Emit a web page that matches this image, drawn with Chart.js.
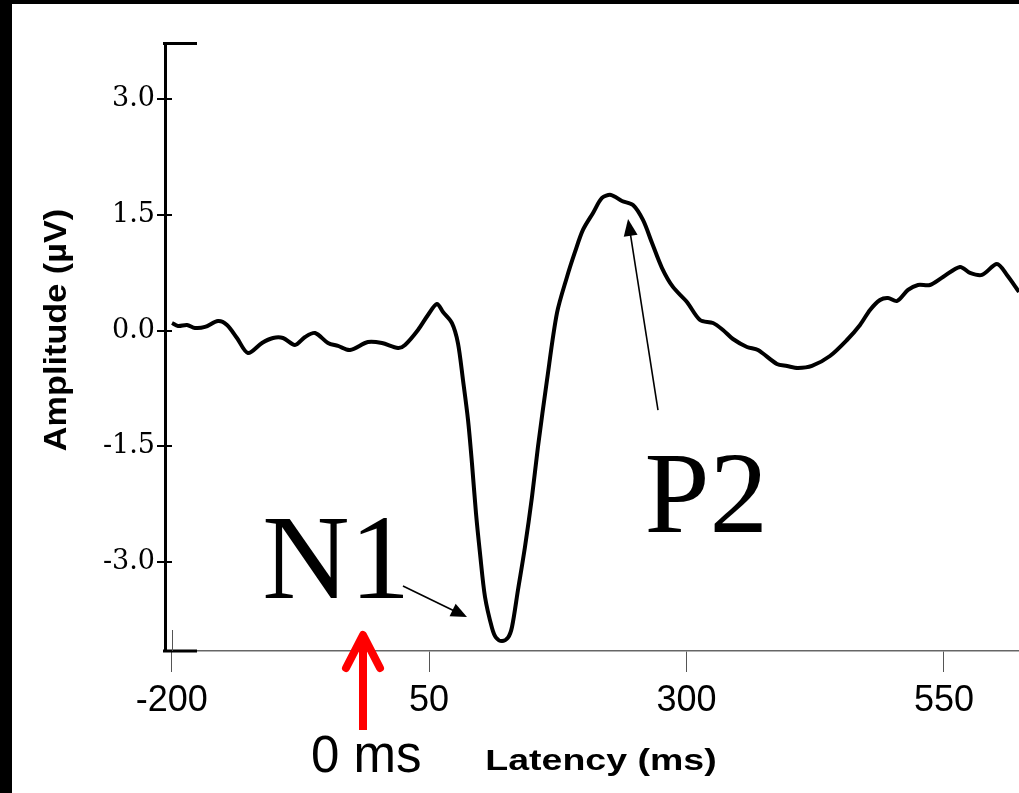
<!DOCTYPE html>
<html>
<head>
<meta charset="utf-8">
<script src="https://cdn.jsdelivr.net/npm/chart.js@4/dist/chart.umd.min.js"></script>
<style>
  html, body { margin: 0; padding: 0; background: #fff; }
  #wrap { position: absolute; left: 0; top: 0; width: 1019px; height: 793px; }
  canvas { display: block; }
</style>
</head>
<body>
<div id="wrap"><canvas id="c" width="1019" height="793"></canvas></div>
<script>
// ---- data ----
const latencyMs = [
  -199.7, -193.9, -185.1, -177.4, -167.7, -155.0, -146.3, -136.6, -125.9, -112.3,
  -101.6, -91.9, -80.3, -70.5, -60.8, -48.2, -38.5, -26.8, -9.4, 4.2,
  19.8, 26.6, 39.2, 48.9, 57.6, 63.5, 72.2, 78.0, 82.9, 87.8,
  91.6, 95.5, 99.4, 104.3, 111.1, 115.0, 120.8, 126.6, 130.5, 136.3, 143.1, 149.9,
  155.7, 164.5, 174.2, 183.9, 191.7, 199.4, 209.2, 217.9, 226.6, 237.3,
  248.0, 257.7, 266.5, 276.2, 286.8, 300.4, 313.1, 325.7, 335.4, 345.1,
  358.7, 369.4, 387.8, 397.6, 408.2, 421.8, 439.3, 455.8, 468.5, 478.2,
  487.9, 495.6, 504.4, 515.1, 524.8, 536.4, 549.1, 565.6, 575.3, 586.9,
  601.5, 611.2, 622.9
];
const amplitudeUv = [
  0.098, 0.060, 0.073, 0.034, 0.047, 0.124, 0.073, -0.096, -0.290, -0.161,
  -0.096, -0.096, -0.186, -0.083, -0.031, -0.161, -0.199, -0.251, -0.148, -0.161,
  -0.225, -0.186, 0.008, 0.202, 0.344, 0.241, 0.098, -0.161, -0.640, -1.157,
  -1.714, -2.361, -2.879, -3.449, -3.850, -3.975, -4.020, -3.975, -3.837, -3.358, -2.802, -2.154,
  -1.507, -0.640, 0.228, 0.694, 1.018, 1.303, 1.523, 1.717, 1.756, 1.678,
  1.626, 1.432, 1.134, 0.810, 0.565, 0.370, 0.137, 0.098, 0.008, -0.109,
  -0.212, -0.251, -0.432, -0.458, -0.484, -0.458, -0.329, -0.122, 0.073, 0.267,
  0.396, 0.422, 0.383, 0.526, 0.590, 0.590, 0.694, 0.824, 0.746, 0.720,
  0.862, 0.720, 0.500
];
const xTickValues = [-200, 50, 300, 550];
const yTickValues = [-3.0, -1.5, 0.0, 1.5, 3.0];
const xTitle = 'Latency (ms)';
const yTitle = 'Amplitude (\u00B5V)';
const peakLabels = ['N1', 'P2'];
const onsetLabel = '0 ms';

const points = latencyMs.map((t, i) => ({ x: t, y: amplitudeUv[i] }));

function arrowHead(ctx, x0, y0, x1, y1, len, halfW) {
  const a = Math.atan2(y1 - y0, x1 - x0);
  ctx.beginPath();
  ctx.moveTo(x1, y1);
  ctx.lineTo(x1 - len * Math.cos(a) + halfW * Math.sin(a), y1 - len * Math.sin(a) - halfW * Math.cos(a));
  ctx.lineTo(x1 - len * Math.cos(a) - halfW * Math.sin(a), y1 - len * Math.sin(a) + halfW * Math.cos(a));
  ctx.closePath();
  ctx.fill();
}

const decor = {
  id: 'decor',
  afterDraw(chart) {
    const ctx = chart.ctx;
    const xs = chart.scales.x, ys = chart.scales.y;
    const ca = chart.chartArea;
    const px = v => xs.getPixelForValue(v);
    const py = v => ys.getPixelForValue(v);
    ctx.save();
    // frame bars
    ctx.fillStyle = '#000';
    ctx.fillRect(0, 0, 12, chart.height);
    ctx.fillRect(0, 0, chart.width, 4);
    // axis caps
    ctx.strokeStyle = '#000';
    ctx.lineWidth = 3;
    ctx.beginPath();
    ctx.moveTo(ca.left - 2, ca.top + 0.5); ctx.lineTo(ca.left + 32, ca.top + 0.5);
    ctx.moveTo(ca.left - 2, ca.bottom); ctx.lineTo(ca.left + 32, ca.bottom);
    ctx.stroke();
    // inner part of y ticks
    ctx.lineWidth = 2;
    ctx.beginPath();
    yTickValues.forEach(v => { const y = Math.round(py(v)); ctx.moveTo(ca.left, y); ctx.lineTo(ca.left + 7, y); });
    ctx.stroke();
    // first x tick extends up
    ctx.strokeStyle = '#555';
    ctx.lineWidth = 1;
    ctx.beginPath();
    const x0 = Math.round(px(xTickValues[0])) + 0.5;
    ctx.moveTo(x0, ca.bottom - 21); ctx.lineTo(x0, ca.bottom);
    ctx.stroke();

    // axis titles
    ctx.fillStyle = '#000';
    ctx.save();
    ctx.translate(57, 330);
    ctx.rotate(-Math.PI / 2);
    ctx.scale(1.07, 1);
    ctx.font = 'bold 32px "Liberation Sans", Arial, sans-serif';
    ctx.textAlign = 'center';
    ctx.textBaseline = 'middle';
    ctx.fillText(yTitle, 0, 0);
    ctx.restore();

    ctx.save();
    ctx.translate(601, 770);
    ctx.scale(1.25, 1);
    ctx.font = 'bold 30px "Liberation Sans", Arial, sans-serif';
    ctx.textAlign = 'center';
    ctx.textBaseline = 'alphabetic';
    ctx.fillText(xTitle, 0, 0);
    ctx.restore();

    // peak labels
    ctx.font = '121px "Liberation Serif", "Times New Roman", serif';
    ctx.textAlign = 'left';
    ctx.textBaseline = 'alphabetic';
    ctx.fillText(peakLabels[0], px(-112.0), py(-3.462));
    ctx.font = '117px "Liberation Serif", "Times New Roman", serif';
    ctx.fillText(peakLabels[1], px(259.2), py(-2.607));

    // N1 arrow
    ctx.strokeStyle = '#000';
    ctx.fillStyle = '#000';
    ctx.lineWidth = 1.6;
    let ax0 = px(24.6), ay0 = py(-3.307), ax1 = px(86.8), ay1 = py(-3.708);
    let ang = Math.atan2(ay1 - ay0, ax1 - ax0);
    ctx.beginPath();
    ctx.moveTo(ax0, ay0); ctx.lineTo(ax1 - 10 * Math.cos(ang), ay1 - 10 * Math.sin(ang));
    ctx.stroke();
    arrowHead(ctx, ax0, ay0, ax1, ay1, 16, 7);
    // P2 arrow
    ax0 = px(272.3); ay0 = py(-1.029); ax1 = px(243.2); ay1 = py(1.445);
    ang = Math.atan2(ay1 - ay0, ax1 - ax0);
    ctx.beginPath();
    ctx.moveTo(ax0, ay0); ctx.lineTo(ax1 - 10 * Math.cos(ang), ay1 - 10 * Math.sin(ang));
    ctx.stroke();
    arrowHead(ctx, ax0, ay0, ax1, ay1, 17, 7);

    // onset arrow (red)
    const rx = px(-14.2), rt = py(-3.941), rb = py(-5.17);
    ctx.strokeStyle = '#ff0000';
    ctx.lineWidth = 8;
    ctx.lineCap = 'butt';
    ctx.beginPath();
    ctx.moveTo(rx, rt + 4); ctx.lineTo(rx, rb);
    ctx.stroke();
    ctx.lineCap = 'round';
    ctx.lineJoin = 'round';
    ctx.beginPath();
    ctx.moveTo(rx - 17, rt + 33); ctx.lineTo(rx, rt); ctx.lineTo(rx + 17, rt + 33);
    ctx.stroke();

    // onset label
    ctx.fillStyle = '#000';
    ctx.font = '51px "Liberation Sans", Arial, sans-serif';
    ctx.textAlign = 'left';
    ctx.textBaseline = 'alphabetic';
    ctx.fillText(onsetLabel, px(-64.7), py(-5.716));
    ctx.restore();
  }
};

new Chart(document.getElementById('c'), {
  type: 'line',
  data: {
    datasets: [{
      data: points,
      borderColor: '#000',
      borderWidth: 4,
      pointRadius: 0,
      tension: 0.3,
      fill: false
    }]
  },
  options: {
    responsive: false,
    animation: false,
    events: [],
    layout: { padding: { top: 43, left: 0, right: 0, bottom: 0 } },
    plugins: { legend: { display: false }, tooltip: { enabled: false }, title: { display: false } },
    scales: {
      x: {
        type: 'linear',
        min: -206.5,
        max: 622.9,
        afterBuildTicks: s => { s.ticks = xTickValues.map(v => ({ value: v })); },
        afterFit: s => { s.height = 142; },
        ticks: {
          color: '#000',
          font: { family: '"Liberation Sans", Arial, sans-serif', size: 36 },
          padding: 7,
          maxRotation: 0,
          autoSkip: false,
          callback: v => String(v)
        },
        grid: { drawOnChartArea: false, drawTicks: true, tickLength: 21, color: '#555', lineWidth: 1 },
        border: { display: true, color: '#666', width: 1.5 }
      },
      y: {
        type: 'linear',
        min: -4.148,
        max: 3.723,
        afterBuildTicks: s => { s.ticks = yTickValues.map(v => ({ value: v })); },
        afterFit: s => { s.width = 165; },
        ticks: {
          color: '#000',
          font: { family: '"DejaVu Serif", serif', size: 27 },
          padding: 2,
          autoSkip: false,
          callback: v => Number(v).toFixed(1)
        },
        grid: { drawOnChartArea: false, drawTicks: true, tickLength: 8, color: '#000', lineWidth: 2 },
        border: { display: true, color: '#000', width: 3 }
      }
    }
  },
  plugins: [decor]
});
</script>
</body>
</html>
